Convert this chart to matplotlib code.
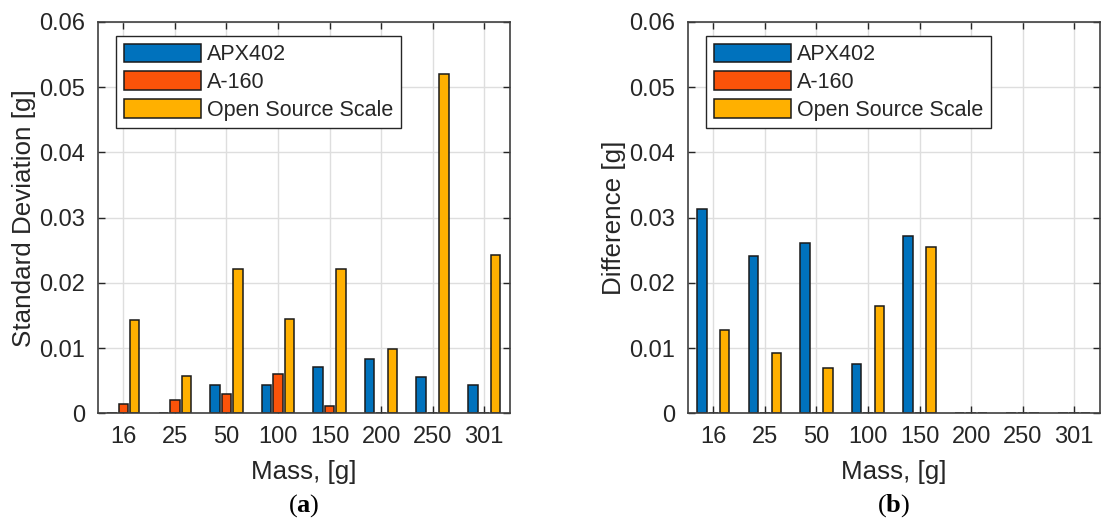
import numpy as np
import matplotlib
matplotlib.use("Agg")
import matplotlib.pyplot as plt

plt.rcParams['font.family'] = ['Liberation Sans', 'DejaVu Sans']
plt.rcParams['mathtext.fontset'] = 'custom'
plt.rcParams['mathtext.rm'] = 'Liberation Serif'
plt.rcParams['mathtext.bf'] = 'Liberation Serif:bold'

# ---- data ----
masses = ['16', '25', '50', '100', '150', '200', '250', '301']
series_names = ['APX402', 'A-160', 'Open Source Scale']
std_apx = [0.0, 0.0, 0.0044, 0.0044, 0.0071, 0.0083, 0.0056, 0.0044]
std_a160 = [0.0014, 0.0020, 0.0030, 0.0061, 0.0011, 0.0, 0.0, 0.0]
std_open = [0.0143, 0.0057, 0.0221, 0.0145, 0.0221, 0.0099, 0.0521, 0.0243]
diff_apx = [0.0313, 0.0241, 0.0261, 0.0075, 0.0272, 0.0, 0.0, 0.0]
diff_a160 = [0.0, 0.0, 0.0, 0.0, 0.0, 0.0, 0.0, 0.0]
diff_open = [0.0128, 0.0093, 0.0069, 0.0165, 0.0255, 0.0, 0.0, 0.0]
yticks = [0, 0.01, 0.02, 0.03, 0.04, 0.05, 0.06]

colors = ['#0072BD', '#FB5309', '#FFB000']
dark = '#262626'

W, H = 1105, 521
fig = plt.figure(figsize=(W / 100, H / 100), dpi=100)

def make_axes(x0, ylabel, data, tag):
    ax = fig.add_axes([x0 / W, 1 - 413.3 / H, 412.5 / W, 391.3 / H])
    x = np.arange(1, len(masses) + 1)
    offs = [-0.222, 0.0, 0.222]
    for i, (vals, name, col) in enumerate(zip(data, series_names, colors)):
        ax.bar(x + offs[i], vals, width=0.185, color=col, edgecolor='#1a1a1a',
               linewidth=1.1, label=name, zorder=2)
    ax.set_xlim(0.5, len(masses) + 0.5)
    ax.set_ylim(0, 0.06)
    ax.set_xticks(x)
    ax.set_xticklabels(masses)
    ax.set_yticks(yticks)
    ax.set_yticklabels(['0' if v == 0 else f'{v:.2f}' for v in yticks])
    ax.grid(True, color='#dedede', linewidth=1.0, zorder=0)
    ax.set_axisbelow(True)
    ax.tick_params(direction='in', length=5, width=1.0, top=True, right=True,
                   colors=dark, labelsize=17, labelcolor=dark, pad=9)
    for s in ax.spines.values():
        s.set_color('#404040')
        s.set_linewidth(1.2)
        s.set_zorder(3)
    ax.set_xlabel('Mass, [g]', fontsize=18.7, color=dark, labelpad=9)
    ax.set_ylabel(ylabel, fontsize=18.7, color=dark, labelpad=2)
    leg = ax.legend(loc='upper left', bbox_to_anchor=(18.5 / 412.5, 1 - 14 / 391.3),
                    borderaxespad=0, fontsize=15.5, frameon=True, fancybox=False,
                    framealpha=1, edgecolor=dark, handlelength=3.6, handleheight=0.95,
                    handletextpad=0.28, borderpad=0.35, labelspacing=0.28)
    leg.get_frame().set_linewidth(1.0)
    for t in leg.get_texts():
        t.set_color(dark)
    fig.text((x0 + 206) / W, 1 - 512 / H, r'$(\mathbf{' + tag + r'})$',
             ha='center', va='baseline', fontsize=19, color='black')
    return ax

make_axes(97.5, 'Standard Deviation [g]', [std_apx, std_a160, std_open], 'a')
make_axes(687.5, 'Difference [g]', [diff_apx, diff_a160, diff_open], 'b')

fig.savefig('out.png', dpi=100)
